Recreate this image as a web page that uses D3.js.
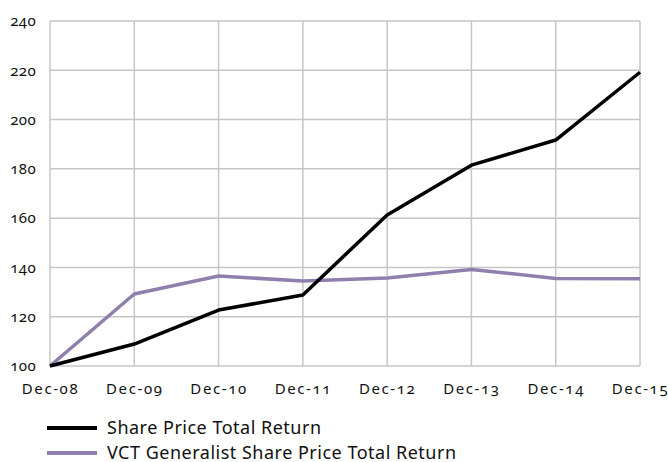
<!DOCTYPE html>
<html>
<head>
<meta charset="utf-8">
<script src="https://cdn.jsdelivr.net/npm/d3@7"></script>
<style>
  body { margin: 0; background: #fff; }
  svg text { font-family: "Noto Sans", "DejaVu Sans", sans-serif; font-variant-numeric: oldstyle-nums; fill: #111; }
</style>
</head>
<body>
<svg id="chart" width="668" height="462"></svg>
<script>
// categories
const years = ["Dec-08", "Dec-09", "Dec-10", "Dec-11", "Dec-12", "Dec-13", "Dec-14", "Dec-15"];
// series values
const sharePrice = [100, 108.9, 122.7, 128.8, 161.3, 181.5, 191.7, 219.2];
const vctGeneralist = [100, 129.2, 136.5, 134.5, 135.7, 139.2, 135.5, 135.4];
// y ticks
const yTicks = [100, 120, 140, 160, 180, 200, 220, 240];

const series = [
  { name: "Share Price Total Return", values: sharePrice, color: "#000000" },
  { name: "VCT Generalist Share Price Total Return", values: vctGeneralist, color: "#8f7fac" }
];

const svg = d3.select("#chart");
const plotL = 50, plotR = 640, plotT = 21, plotB = 366;

const x = d3.scalePoint().domain(years).range([plotL, plotR]);
const y = d3.scaleLinear().domain([100, 240]).range([plotB, plotT]);

// grid
const grid = svg.append("g");
grid.selectAll(".h").data(yTicks).join("line")
  .attr("x1", plotL).attr("x2", plotR)
  .attr("y1", d => y(d)).attr("y2", d => y(d))
  .attr("stroke", "#c6c6c6").attr("stroke-width", 1.5);
grid.selectAll(".v").data(years).join("line")
  .attr("x1", d => x(d)).attr("x2", d => x(d))
  .attr("y1", plotT).attr("y2", plotB)
  .attr("stroke", "#c6c6c6").attr("stroke-width", 1.5);

// axes
const yAxis = svg.append("g")
  .attr("transform", `translate(${plotL},0)`)
  .call(d3.axisLeft(y).tickValues(yTicks).tickSize(0).tickPadding(14));
yAxis.select(".domain").remove();
yAxis.selectAll("text").attr("font-size", 15).style("letter-spacing", "0.4px");

const xAxis = svg.append("g")
  .attr("transform", `translate(0,${plotB})`)
  .call(d3.axisBottom(x).tickSize(0).tickPadding(17));
xAxis.select(".domain").remove();
xAxis.selectAll("text").attr("font-size", 15).style("letter-spacing", "1.6px");

// lines
const line = d3.line().x((d, i) => x(years[i])).y(d => y(d));
svg.selectAll(".series").data(series.slice().reverse()).join("path")
  .attr("d", d => line(d.values))
  .attr("fill", "none")
  .attr("stroke", d => d.color)
  .attr("stroke-width", 3.5)
  .attr("stroke-linejoin", "round");

// legend
const legend = svg.append("g");
series.forEach((s, i) => {
  const ly = 428 + i * 25;
  legend.append("line")
    .attr("x1", 47).attr("x2", 97).attr("y1", ly).attr("y2", ly)
    .attr("stroke", s.color).attr("stroke-width", 4);
  legend.append("text")
    .attr("x", 107).attr("y", ly + 6)
    .attr("font-size", 18)
    .style("letter-spacing", "0.5px")
    .text(s.name);
});
</script>
</body>
</html>
